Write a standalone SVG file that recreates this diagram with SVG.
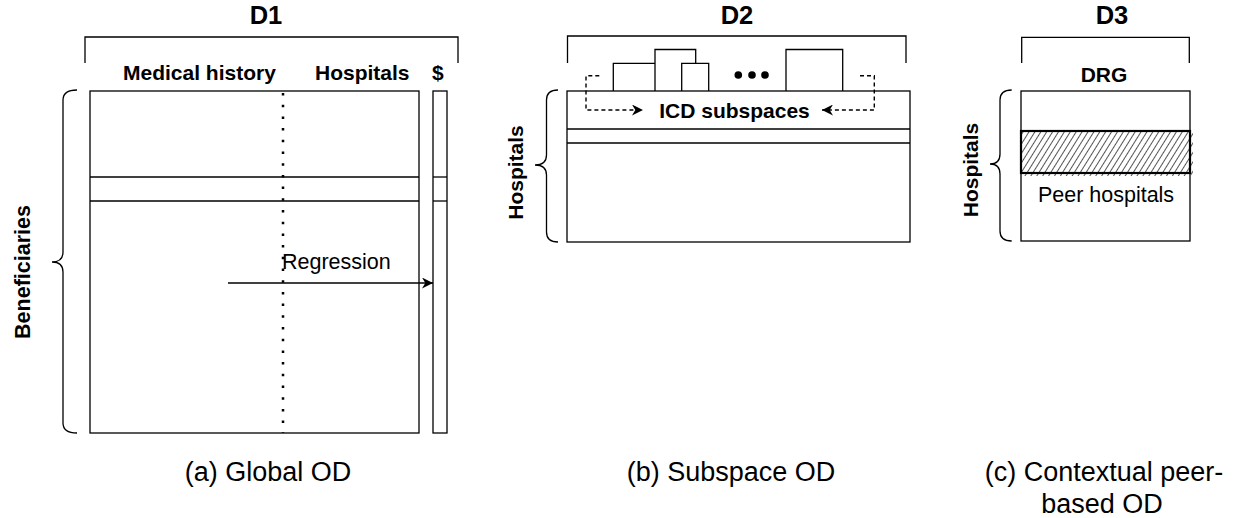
<svg xmlns="http://www.w3.org/2000/svg" width="1237" height="518" viewBox="0 0 1237 518">
  <style>
    text { font-family: "Liberation Sans", Arial, Helvetica, sans-serif; fill: #000; }
    .title { font-size: 25.5px; font-weight: bold; text-anchor: middle; }
    .lbl { font-size: 21px; font-weight: bold; }
    .plain { font-size: 21.5px; }
    .cap { font-size: 27px; text-anchor: middle; }
    .box { fill: #fff; stroke: #000; stroke-width: 1.3; }
    .line { fill: none; stroke: #000; stroke-width: 1.3; }
    .brace { fill: none; stroke: #000; stroke-width: 1.3; }
    .dash { fill: none; stroke: #000; stroke-width: 1.4; stroke-dasharray: 4 3; }
  </style>
  <defs>
    <marker id="arrow" viewBox="0 0 10 10" refX="10" refY="5" markerWidth="12" markerHeight="11" markerUnits="userSpaceOnUse" orient="auto">
      <path d="M0,0 L10,5 L0,10 L3,5 Z" fill="#000"/>
    </marker>
    <pattern id="hatch" patternUnits="userSpaceOnUse" width="5" height="5" patternTransform="rotate(32)">
      <line x1="2.5" y1="0" x2="2.5" y2="5" stroke="#555" stroke-width="1"/>
    </pattern>
  </defs>

  <!-- Panel (a): global outlier detection on D1 -->
  <g id="panel-a">
    <text class="title" x="266" y="24">D1</text>
    <path class="line" d="M85,63 V37 H458 V63"/>
    <text class="lbl" x="123" y="80">Medical history</text>
    <text class="lbl" x="315" y="80">Hospitals</text>
    <text class="lbl" x="432" y="80">$</text>
    <path class="brace" d="M77,90 Q63,90 63,100 V252 Q63,262 52,262 Q63,262 63,272 V423 Q63,433 77,433"/>
    <text class="lbl" transform="translate(29.5,272) rotate(-90)" text-anchor="middle" style="font-size:21.5px">Beneficiaries</text>
    <rect id="d1-matrix" class="box" x="90" y="91" width="329" height="342"/>
    <line class="line" x1="90" y1="177" x2="419" y2="177"/>
    <line class="line" x1="90" y1="201" x2="419" y2="201"/>
    <line x1="283" y1="93" x2="283" y2="433" stroke="#000" stroke-width="2.5" stroke-dasharray="2.5 9.2"/>
    <rect id="d1-cost" class="box" x="433" y="91" width="14" height="342"/>
    <line class="line" x1="433" y1="177" x2="447" y2="177"/>
    <line class="line" x1="433" y1="201" x2="447" y2="201"/>
    <text class="plain" x="282" y="269">Regression</text>
    <text class="cap" x="268" y="481">(a) Global OD</text>
  </g>

  <!-- Panel (b): subspace outlier detection on D2 -->
  <g id="panel-b">
    <text class="title" x="737" y="24">D2</text>
    <path class="line" d="M567.5,63 V36 H906 V63"/>
    <path class="box" d="M613.3,91 V63.3 H668.3 V91"/>
    <path class="box" d="M655,91 V49.5 H695.7 V91"/>
    <path class="box" d="M681.7,91 V63.3 H708.7 V91"/>
    <path class="box" d="M786,91 V49.5 H842.7 V91"/>
    <circle cx="738.3" cy="75" r="3.8" fill="#000"/>
    <circle cx="752" cy="75" r="3.8" fill="#000"/>
    <circle cx="765" cy="75" r="3.8" fill="#000"/>
    <path class="brace" d="M558,90 Q546.5,90 546.5,100 V155 Q546.5,165 535,165 Q546.5,165 546.5,175 V232 Q546.5,242 558,242"/>
    <text class="lbl" transform="translate(523,172.5) rotate(-90)" text-anchor="middle">Hospitals</text>
    <rect id="d2-matrix" class="box" x="567" y="91" width="343" height="151"/>
    <line class="line" x1="567" y1="129" x2="910" y2="129"/>
    <line class="line" x1="567" y1="143" x2="910" y2="143"/>
    <text class="lbl" x="734.5" y="118" text-anchor="middle">ICD subspaces</text>
    <text class="cap" x="731" y="481">(b) Subspace OD</text>
  </g>

  <!-- Panel (c): contextual peer-based outlier detection on D3 -->
  <g id="panel-c">
    <text class="title" x="1112" y="24">D3</text>
    <path class="line" d="M1021.7,63 V37.3 H1189.3 V63"/>
    <text class="lbl" x="1104" y="82" text-anchor="middle">DRG</text>
    <path class="brace" d="M1011.7,90 Q1000,90 1000,100 V154 Q1000,164 990,164 Q1000,164 1000,174 V231 Q1000,241 1011.7,241"/>
    <text class="lbl" transform="translate(978,170) rotate(-90)" text-anchor="middle">Hospitals</text>
    <rect id="d3-matrix" class="box" x="1021" y="91" width="169" height="150"/>
    <rect x="1022" y="132" width="171" height="44" fill="url(#hatch)"/>
    <rect id="peer-group" x="1021" y="131" width="169" height="42" fill="none" stroke="#000" stroke-width="2.2"/>
    <text class="plain" x="1106" y="202" text-anchor="middle">Peer hospitals</text>
    <text class="cap" x="1104" y="481">(c) Contextual peer-</text>
    <text class="cap" x="1102" y="513">based OD</text>
  </g>

  <!-- Connectors -->
  <g id="connectors">
    <line x1="228" y1="283" x2="433" y2="283" stroke="#000" stroke-width="1.3" marker-end="url(#arrow)"/>
    <path class="dash" d="M599.3,75.7 H586 V110 H643" marker-end="url(#arrow)"/>
    <path class="dash" d="M860,75.7 H874.3 V110 H822" marker-end="url(#arrow)"/>
  </g>
</svg>
